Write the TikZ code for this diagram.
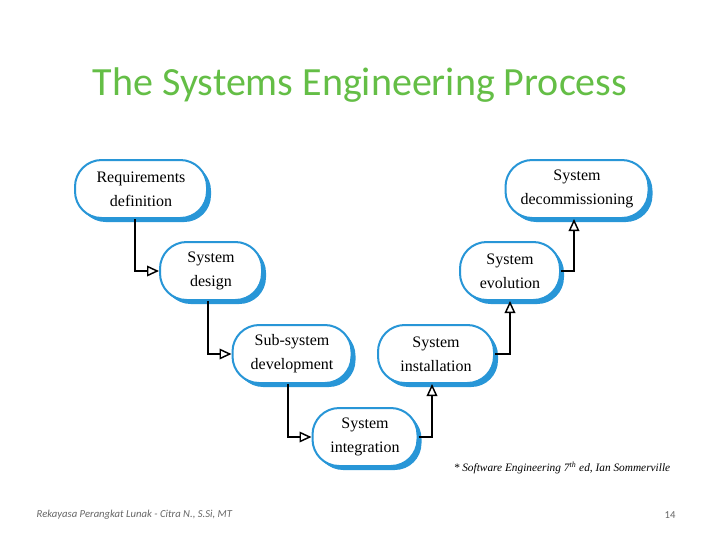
\documentclass[tikz,border=0pt]{standalone}
\usepackage{fontspec}
\setmainfont{Liberation Serif}
\newfontfamily\carl{Carlito}
\usetikzlibrary{arrows.meta}
\definecolor{bb}{RGB}{40,150,215}
\definecolor{tg}{RGB}{100,190,70}
\begin{document}
\begin{tikzpicture}[x=0.75pt,y=-0.75pt,
 st/.style={draw=bb,line width=1.5pt,fill=white,rounded corners=20pt,align=center,font=\fontsize{12}{18}\selectfont,inner sep=0pt},
 ar/.style={line width=1.1pt,-{Triangle[open,length=9pt,width=8pt]}}]
\useasboundingbox (0,0) rectangle (720,540);
\node[font=\carl\fontsize{30}{34}\selectfont,text=tg] (t) at (360,85) {The Systems Engineering Process};
\def\mybox#1#2#3#4#5{%
 \fill[bb,rounded corners=20pt] (#2-#4/2+4,#3-29+4) rectangle (#2+#4/2+4,#3+29+4);
 \draw[bb,line width=0.6pt,rounded corners=20pt] (#2-#4/2+2,#3-29+2) rectangle (#2+#4/2+2,#3+29+2);
 \node[st,minimum width=#4*0.75pt,minimum height=58*0.75pt] (#1) at (#2,#3) {#5};}
\mybox{req}{141}{189}{132}{Requirements\\definition}
\mybox{des}{211}{271}{102}{System\\design}
\mybox{sub}{292}{354}{119}{Sub-system\\development}
\mybox{int}{365}{437}{105}{System\\integration}
\mybox{ins}{436}{354}{116}{System\\installation}
\mybox{evo}{510}{271}{100}{System\\evolution}
\mybox{dec}{577}{189}{143}{System\\decommissioning}
\draw[ar] (135,0 |- req.south) |- (des.west);
\draw[ar] (208,0 |- des.south) |- (sub.west);
\draw[ar] (288,0 |- sub.south) |- (int.west);
\draw[ar] (int.east) -| (432,0 |- ins.south);
\draw[ar] (ins.east) -| (evo.south);
\draw[ar] (evo.east) -| (574,0 |- dec.south);
\node[font=\itshape\fontsize{8.5}{10}\selectfont] (ref) at (562,468) {* Software Engineering 7\textsuperscript{th} ed, Ian Sommerville};
\node[font=\carl\itshape\fontsize{8}{10}\selectfont,text=black!60,anchor=west] (ft) at (32,515) {Rekayasa Perangkat Lunak - Citra N., S.Si, MT};
\node[font=\carl\fontsize{8}{10}\selectfont,text=black!60] (pg) at (670,515) {14};
\end{tikzpicture}
\end{document}
